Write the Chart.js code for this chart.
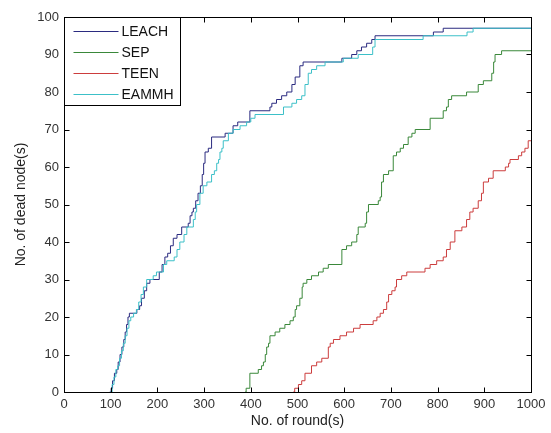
<!DOCTYPE html>
<html>
<head>
<meta charset="utf-8">
<script src="https://cdn.jsdelivr.net/npm/chart.js@4.4.1/dist/chart.umd.min.js"></script>
<style>
  html, body { margin: 0; padding: 0; background: #fff; }
  #wrap { width: 551px; height: 433px; }
</style>
</head>
<body>
<div id="wrap"><canvas id="chart" width="551" height="433"></canvas></div>
<script>
// x ticks and y ticks
const xTicks = [0, 100, 200, 300, 400, 500, 600, 700, 800, 900, 1000];
const yTicks = [0, 10, 20, 30, 40, 50, 60, 70, 80, 90, 100];

const seriesNames = ['LEACH', 'SEP', 'TEEN', 'EAMMH'];
const seriesColors = ['#2b2b80', '#3a883a', '#cc3d3d', '#3cc0c8'];

// round at which the count changes, and dead nodes from then on
const leachRounds = [98, 101, 104, 108, 113, 116, 120, 124, 128, 131, 134, 137, 140, 156, 162, 166, 172, 177, 184, 204, 210, 216, 222, 228, 234, 242, 252, 266, 270, 274, 277, 282, 287, 292, 296, 299, 302, 309, 316, 345, 362, 372, 398, 441, 445, 455, 466, 477, 488, 495, 505, 512, 595, 616, 627, 637, 648, 659, 666, 791, 812, 1000];
const leachDead   = [0, 1, 3, 5, 6, 8, 10, 12, 14, 16, 18, 20, 21, 22, 23, 25, 27, 29, 30, 32, 34, 36, 37, 39, 41, 42, 44, 45, 47, 48, 49, 51, 53, 55, 58, 61, 64, 65, 68, 69, 71, 72, 75, 76, 77, 78, 79, 80, 82, 84, 87, 88, 89, 90, 91, 92, 93, 94, 95, 96, 97, 97];

const sepRounds = [388, 390, 398, 416, 423, 427, 431, 434, 438, 441, 452, 462, 473, 484, 491, 495, 498, 505, 510, 512, 520, 530, 545, 555, 566, 595, 605, 616, 627, 630, 645, 648, 652, 673, 677, 680, 684, 695, 705, 712, 720, 727, 737, 745, 752, 784, 812, 819, 823, 830, 862, 887, 898, 916, 920, 923, 937, 1000];
const sepDead   = [0, 1, 5, 6, 7, 8, 10, 12, 13, 15, 16, 17, 18, 19, 20, 22, 23, 25, 28, 29, 30, 31, 32, 33, 34, 38, 39, 40, 42, 44, 45, 48, 50, 51, 52, 56, 58, 59, 63, 64, 65, 66, 68, 69, 70, 73, 75, 76, 78, 79, 80, 82, 83, 85, 88, 90, 91, 91];

const teenRounds = [491, 494, 502, 509, 516, 530, 541, 552, 566, 570, 577, 591, 605, 620, 634, 662, 670, 677, 684, 691, 695, 702, 709, 712, 723, 734, 773, 784, 798, 812, 819, 827, 837, 852, 862, 869, 876, 887, 894, 898, 909, 919, 945, 952, 955, 973, 980, 987, 994, 1000];
const teenDead   = [0, 1, 2, 3, 5, 7, 8, 9, 12, 13, 14, 15, 16, 17, 18, 19, 20, 21, 22, 24, 26, 27, 28, 30, 31, 32, 33, 34, 35, 36, 38, 40, 43, 44, 46, 48, 49, 51, 53, 56, 57, 59, 60, 61, 62, 63, 64, 65, 67, 67];

const eammhRounds = [99, 103, 107, 111, 115, 119, 123, 127, 131, 135, 139, 143, 149, 155, 160, 165, 170, 177, 191, 198, 213, 220, 236, 242, 248, 257, 263, 277, 281, 284, 291, 298, 306, 316, 322, 327, 331, 334, 338, 341, 352, 362, 377, 391, 400, 409, 470, 488, 498, 509, 516, 523, 530, 541, 559, 598, 630, 661, 666, 769, 863, 876, 1000];
const eammhDead   = [0, 2, 4, 6, 7, 9, 11, 13, 15, 17, 19, 20, 21, 22, 24, 26, 28, 30, 31, 32, 34, 35, 36, 38, 40, 42, 44, 46, 48, 50, 53, 55, 56, 58, 59, 61, 62, 64, 65, 67, 69, 70, 71, 72, 73, 74, 76, 77, 78, 79, 82, 85, 86, 87, 88, 89, 90, 92, 94, 95, 96, 97, 97];

function pairs(xs, ys) {
    return xs.map((x, i) => ({ x: x, y: ys[i] }));
}

const allSeries = [
    pairs(leachRounds, leachDead),
    pairs(sepRounds, sepDead),
    pairs(teenRounds, teenDead),
    pairs(eammhRounds, eammhDead)
];

const fontName = "'Liberation Sans', Arial, sans-serif";

// matlab style box, inward ticks and a legend box in the corner
const matlabBox = {
    id: 'matlabBox',
    afterDatasetsDraw(chart) {
        const ctx = chart.ctx;
        const a = chart.chartArea;
        const xs = chart.scales.x;
        const ys = chart.scales.y;
        const L = Math.round(a.left) + 0.5, R = Math.round(a.right) + 0.5;
        const T = Math.round(a.top) + 0.5, B = Math.round(a.bottom) + 0.5;
        const tick = 5;

        ctx.save();
        ctx.strokeStyle = '#000';
        ctx.lineWidth = 1;
        ctx.beginPath();
        xTicks.forEach(v => {
            const p = Math.round(xs.getPixelForValue(v)) + 0.5;
            ctx.moveTo(p, B); ctx.lineTo(p, B - tick);
            ctx.moveTo(p, T); ctx.lineTo(p, T + tick);
        });
        yTicks.forEach(v => {
            const p = Math.round(ys.getPixelForValue(v)) + 0.5;
            ctx.moveTo(L, p); ctx.lineTo(L + tick, p);
            ctx.moveTo(R, p); ctx.lineTo(R - tick, p);
        });
        ctx.stroke();
        ctx.strokeRect(L, T, R - L, B - T);

        // legend
        const boxW = 116, boxH = 88;
        ctx.fillStyle = '#fff';
        ctx.fillRect(L, T, boxW, boxH);
        ctx.strokeRect(L, T, boxW, boxH);
        ctx.font = '14px ' + fontName;
        ctx.textBaseline = 'middle';
        ctx.textAlign = 'left';
        chart.data.datasets.forEach((ds, i) => {
            const y = Math.round(T + 13 + i * 21) + 0.5;
            ctx.strokeStyle = ds.borderColor;
            ctx.beginPath();
            ctx.moveTo(L + 9, y);
            ctx.lineTo(L + 54, y);
            ctx.stroke();
            ctx.fillStyle = '#111';
            ctx.fillText(ds.label, L + 57, y + 1);
        });
        ctx.restore();
    }
};

new Chart(document.getElementById('chart'), {
    type: 'line',
    data: {
        datasets: seriesNames.map((name, i) => ({
            label: name,
            data: allSeries[i],
            borderColor: seriesColors[i],
            backgroundColor: seriesColors[i],
            borderWidth: 1,
            pointRadius: 0,
            stepped: true,
            fill: false,
            order: seriesNames.length - i
        }))
    },
    options: {
        responsive: false,
        animation: false,
        layout: { padding: { left: 0, right: 20, top: 17, bottom: 0 } },
        plugins: {
            legend: { display: false },
            tooltip: { enabled: false }
        },
        scales: {
            x: {
                type: 'linear',
                min: 0,
                max: 1000,
                afterBuildTicks: s => { s.ticks = xTicks.map(v => ({ value: v })); },
                afterFit: s => { s.height = 41; },
                grid: { display: false, drawTicks: false },
                border: { display: false },
                ticks: { padding: 5, color: '#333', font: { family: fontName, size: 13 }, maxRotation: 0, autoSkip: false, callback: v => String(v) },
                title: { display: true, text: 'No. of round(s)', color: '#222', font: { family: fontName, size: 14 }, padding: { top: 0, bottom: 3 } }
            },
            y: {
                type: 'linear',
                min: 0,
                max: 100,
                afterBuildTicks: s => { s.ticks = yTicks.map(v => ({ value: v })); },
                afterFit: s => { s.width = 64; },
                grid: { display: false, drawTicks: false },
                border: { display: false },
                ticks: { padding: 5, color: '#333', font: { family: fontName, size: 13 }, autoSkip: false, callback: v => String(v) },
                title: { display: true, text: 'No. of dead node(s)', color: '#222', font: { family: fontName, size: 14 }, padding: { top: 13, bottom: 0 } }
            }
        }
    },
    plugins: [matlabBox]
});
</script>
</body>
</html>
